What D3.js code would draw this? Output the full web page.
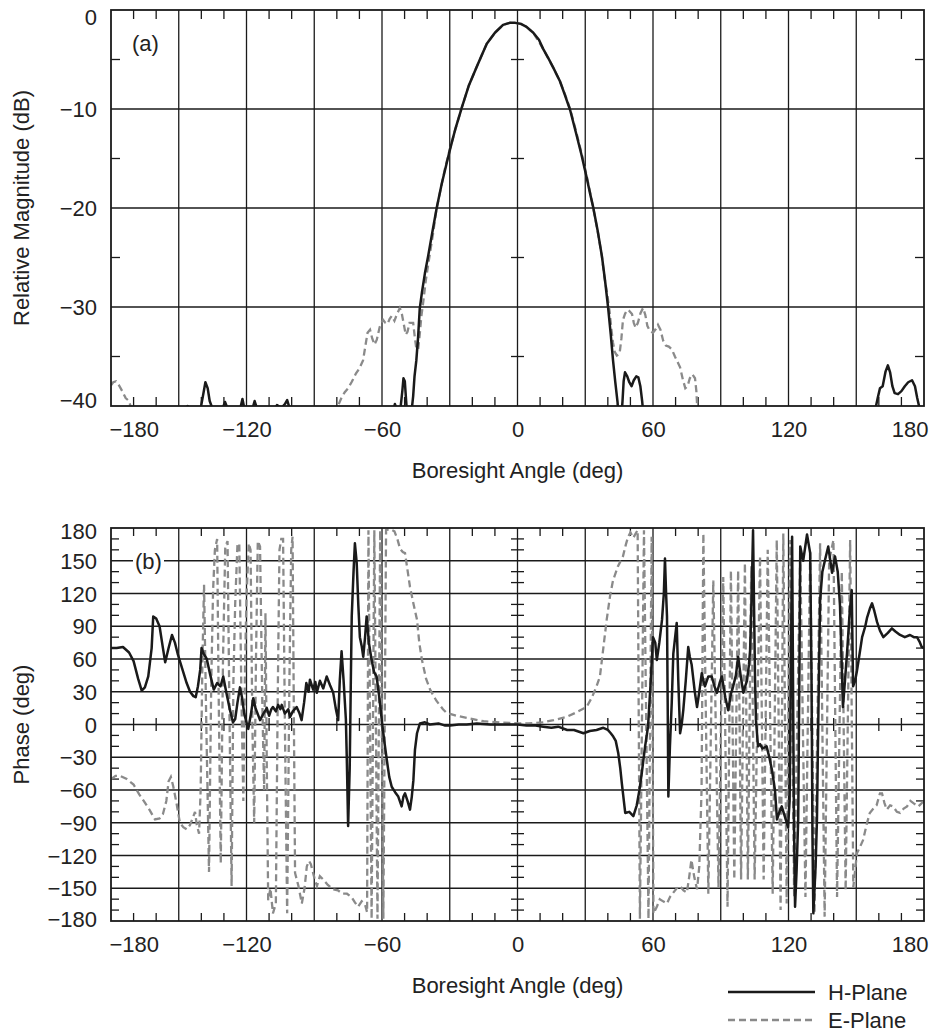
<!DOCTYPE html>
<html>
<head>
<meta charset="utf-8">
<title>Boresight Pattern</title>
<script src="https://d3js.org/d3.v7.min.js"></script>
<style>
  html, body { margin: 0; padding: 0; background: #fff; }
  svg { display: block; }
  text { font-family: "Liberation Sans", Arial, Helvetica, sans-serif; font-size: 22px; fill: #222; }
  .grid line { stroke: #1a1a1a; stroke-width: 1.3; }
  .tick-mark { stroke: #1a1a1a; stroke-width: 1.3; }
  .frame { fill: none; stroke: #1a1a1a; stroke-width: 1.8; }
  .hplane { fill: none; stroke: #1a1a1a; stroke-width: 2.5; stroke-linejoin: round; }
  .eplane { fill: none; stroke: #8a8a8a; stroke-width: 2.3; stroke-dasharray: 7,4; }
</style>
</head>
<body>
<svg id="chart" width="930" height="1034"></svg>
<script>
// tick labels
const angleTicks = [-180, -120, -60, 0, 60, 120, 180];
const magTicks = [0, -10, -20, -30, -40];
const phaseTicks = [180, 150, 120, 90, 60, 30, 0, -30, -60, -90, -120, -150, -180];

// (a) relative magnitude, dB  [angle, value]
const magH = [
  [-180, -45], [-152, -45], [-149.5, -41], [-147.5, -40.3], [-146, -40.0], [-145, -40.6], [-142, -41.5],
  [-140.5, -40.5], [-139.3, -39], [-138.2, -37.6], [-137.2, -38.2], [-136.3, -39.5], [-135, -40.3],
  [-133, -41], [-131, -40.5], [-129.5, -39.6], [-128.3, -40.3], [-126, -41], [-123, -40.5], [-121.8, -39.3],
  [-120.8, -40.4], [-118, -40.8], [-116.4, -39.5], [-115.3, -40.3], [-112, -41], [-108, -40.6],
  [-106.5, -39.9], [-104.5, -40.2], [-103, -39.8], [-102, -39.4], [-100.8, -40.3], [-99.5, -42], [-97, -45],
  [-57, -45], [-55.5, -41], [-54.3, -39.8], [-53, -40.6], [-51.8, -40.2], [-51, -38.5], [-50.5, -37.2],
  [-49.9, -37.5], [-49.3, -39.5], [-48.7, -41.5], [-47.6, -41.5], [-46.8, -40.3], [-46.2, -39], [-45.6, -37],
  [-44.8, -35.4], [-44, -33], [-43.3, -30.2], [-42.3, -28.5], [-41, -26.6], [-39.6, -24.9], [-37.6, -22.3],
  [-35.7, -19.9], [-33.5, -17.5], [-31.5, -15.6], [-29.9, -14.1], [-27.5, -12], [-24.6, -9.8], [-21.5, -7.6],
  [-18, -5.7], [-15.5, -4.4], [-13.6, -3.4], [-10, -2.3], [-6.4, -1.5], [-3.5, -1.3], [-1, -1.3], [1.5, -1.4],
  [4, -1.7], [7, -2.3], [9.5, -3], [11.3, -3.9], [13.5, -4.8], [16, -5.9], [18.8, -7.2], [21, -8.6],
  [23.3, -10.1], [26, -12.5], [28.3, -14.6], [30.5, -16.8], [32.3, -18.7], [33.5, -19.9], [35.5, -22.3],
  [37.4, -24.9], [38.8, -27.4], [40.1, -30], [41.3, -32.8], [42.3, -35.4], [43.3, -37.6], [44.3, -39.6],
  [44.8, -41.5], [45.8, -41.8], [46.5, -39.5], [47, -37.5], [47.6, -36.6], [48.6, -37], [49.5, -37.6],
  [50.5, -38], [51.5, -37.4], [52.6, -37], [53.5, -37.1], [54.4, -38], [55.2, -39.5], [55.8, -41], [57, -45],
  [156, -45], [158.3, -40.5], [159.5, -39.2], [160.5, -38.2], [161.7, -38], [163, -36.5], [164, -35.9],
  [165, -36.6], [166, -38], [167, -38.7], [168.5, -38.8], [170, -38.5], [171.5, -38], [173, -37.6],
  [174.7, -37.4], [176, -38], [177, -39.2], [178, -40.2], [179, -41], [180, -42]
];
const magE = [
  [-180, -37.9], [-179, -37.6], [-177.8, -37.5], [-176.5, -37.9], [-175, -38.5], [-173.5, -39.2], [-172, -39.5],
  [-171, -40.3], [-170, -42], [-168, -45], [-83, -45], [-81, -42], [-79.5, -40], [-78, -39.2], [-76.5, -38.6],
  [-75, -38.2], [-73.5, -37.6], [-72.8, -37.3], [-71.5, -36.7], [-70, -36.2], [-68.4, -35.4], [-67.4, -34],
  [-66.4, -32.6], [-65.3, -32.3], [-64.3, -33.2], [-63.3, -33.8], [-62.3, -33.3], [-61, -32], [-60.2, -31.6],
  [-59.5, -31.3], [-58.5, -31.6], [-57.5, -31.7], [-56.6, -31.2], [-55.7, -30.9], [-54.5, -31.4], [-53.5, -30.8],
  [-52.1, -30.1], [-51.2, -30.7], [-50.3, -31.8], [-49.5, -32.8], [-48.7, -32.5], [-47.8, -31.6], [-46.9, -31.6],
  [-46.2, -31.6], [-45.5, -33], [-44.8, -34.2], [-44, -34.3], [-43.3, -32.8], [-42.6, -31], [-41.8, -29.6],
  [-40.6, -27.3], [-39.2, -25.2], [-37.4, -22.6], [-36, -20.3], [-34.3, -18.4], [-32, -15.9], [-29.9, -14],
  [-27.2, -11.8], [-24.6, -9.8], [-21.5, -7.6], [-18, -5.7], [-13.6, -3.4], [-10, -2.3], [-6.4, -1.5],
  [-3.5, -1.3], [-1, -1.3], [1.5, -1.4], [4, -1.7], [7, -2.3], [11.3, -3.9], [16, -5.9], [18.8, -7.2],
  [21, -8.5], [23.3, -10], [26, -12.3], [28.3, -14.4], [30.5, -16.6], [32.3, -18.6], [33.7, -20.2],
  [35.7, -22.6], [37.3, -24.8], [38.5, -27], [39.8, -28.8], [40.8, -30.5], [41.6, -32.3], [42.3, -33.6],
  [43, -34.5], [44, -34.9], [45.2, -34.7], [46, -33.2], [46.7, -31.3], [47.6, -30.7], [48.5, -30.3],
  [49.5, -30.4], [50.7, -30.7], [51.5, -31.6], [52.3, -32.1], [53.3, -31.6], [54.5, -30.6], [55.6, -30.1],
  [56.6, -30.8], [57.5, -31.9], [58.6, -32.4], [60, -32.6], [61.3, -32.2], [62.2, -31.8], [63.3, -32.3],
  [64.5, -33.4], [65.7, -33.9], [67, -34], [68.4, -34.3], [69.7, -35], [71, -35.6], [72, -36.1],
  [73.2, -37.3], [74.3, -38.2], [75.3, -38], [76.3, -37.2], [77.4, -36.8], [78.6, -37.2], [79.2, -38.5],
  [79.6, -40.2], [80.5, -45], [180, -45]
];

// (b) phase, deg  [angle, value]
const phaseH = [
  [-180, 70], [-177.5, 70], [-174.7, 71], [-172, 66], [-170, 58], [-168, 42], [-166.4, 31], [-165, 34],
  [-163.5, 44], [-162, 70], [-161.3, 99], [-160, 97], [-158.5, 90], [-157, 70], [-156, 57], [-154.5, 70],
  [-153, 82], [-151.7, 75], [-150.5, 65], [-149.5, 58], [-148, 48], [-146.5, 38], [-145, 30], [-143.5, 26],
  [-142.5, 25], [-141.5, 35], [-140.5, 50], [-139.9, 70], [-139, 65], [-137.6, 60], [-136, 45], [-134.5, 32],
  [-133, 38], [-131.5, 35], [-130.3, 44], [-129, 30], [-127.5, 15], [-126, 2], [-125, 5], [-124, 20],
  [-122.9, 34], [-122, 25], [-121, 10], [-120, 2], [-119.2, -4], [-118, 10], [-117, 24], [-116, 15],
  [-114, 4], [-112.5, 10], [-111, 15], [-110, 8], [-109, 14], [-108.3, 16], [-107, 12], [-106, 18],
  [-105, 14], [-104.4, 18], [-103, 10], [-101.5, 14], [-100.7, 7], [-99.5, 12], [-97.8, 16], [-96.5, 10],
  [-95.6, 4], [-94.5, 20], [-93.5, 38], [-92.5, 30], [-91.9, 41], [-90.5, 32], [-89.5, 39], [-88.9, 29],
  [-87.5, 40], [-86, 33], [-84.5, 44], [-83, 36], [-81.6, 29], [-80.5, 15], [-79.4, 4], [-78.7, 40],
  [-77.9, 67], [-77, 40], [-76, 5], [-75.6, -30], [-75, -93], [-74.3, -40], [-73.8, 40], [-73.4, 99],
  [-72.6, 140], [-72, 166], [-71.2, 148], [-70.5, 110], [-69.8, 80], [-69, 72], [-68.3, 62], [-67.5, 80],
  [-66.8, 99], [-65.8, 75], [-64.6, 59], [-63.5, 48], [-62.4, 44], [-61.2, 25], [-60.1, 4], [-59, -15],
  [-57.9, -32], [-56.8, -48], [-55.7, -57], [-54.2, -62], [-52.8, -66], [-51.3, -75], [-50.5, -66],
  [-49.8, -63], [-48.7, -70], [-47.6, -78], [-46.8, -66], [-46.1, -51], [-45.4, -23], [-44.5, -8],
  [-43.2, 1], [-41, 2], [-38.8, 0], [-35, 1], [-32, -1], [-29.9, -1], [-26, 0], [-22.5, 0], [-18, 1],
  [-12, 0], [-7.8, 0], [-3, 0], [0, 0], [4, -1], [8, -1], [11.4, -2], [15, -3], [18, -2], [22, -5],
  [25, -5], [29.2, -8], [32, -6], [35, -5], [38, -3], [40, -5], [41.3, -8], [42.4, -11], [43.5, -15],
  [44.6, -26], [45.5, -40], [46.2, -54], [47.7, -81], [49.5, -80], [51.3, -84], [52.8, -74], [54, -60],
  [55, -45], [56.5, -20], [57.8, -2], [59, 40], [60, 80], [61, 75], [61.7, 59], [62.8, 75], [64, 96],
  [64.8, 120], [65.3, 152], [65.8, 120], [66.2, 99], [66.5, 20], [66.8, -66], [67.5, -20], [68.3, 20],
  [69, 65], [70.5, 93], [71.2, 40], [72, -8], [72.7, 0], [73.4, 13], [74.5, 40], [75.6, 71], [76.3, 62],
  [77.1, 55], [78.5, 30], [79.5, 16], [80.5, 30], [81.6, 47], [82.3, 40], [83, 35], [84.5, 44], [86, 44],
  [87.2, 35], [88.3, 29], [89.5, 38], [90.5, 44], [92, 25], [93.3, 13], [94.5, 28], [95.5, 35], [96.7, 45],
  [97.7, 62], [98.8, 45], [100, 29], [100.8, 35], [101.6, 40], [102.5, 55], [103, 68], [103.7, 120],
  [104.3, 178], [104.8, 100], [105.2, 40], [105.6, 4], [106.5, -20], [107.4, -18], [108.5, -22],
  [110.3, -20], [111.5, -30], [112.7, -42], [114, -60], [114.9, -87], [116, -80], [117, -75], [118.5, -85],
  [119.8, -94], [120.5, -70], [121, 40], [121.6, 172], [122, 40], [122.4, -84], [122.9, -167], [123.6, -133],
  [124.3, -87], [124.8, 40], [125.2, 163], [126.5, 150], [128.2, 174], [129.6, 157], [130.2, 40],
  [130.6, -100], [131, -173], [132, -130], [132.6, -87], [133.3, 20], [134, 114], [135, 140], [136.2, 151],
  [137.6, 163], [139.3, 139], [140.6, 154], [141.8, 140], [142.8, 109], [143.5, 60], [144.1, 16], [145, 40],
  [145.9, 65], [147, 100], [148, 123], [148.6, 35], [149.5, 40], [150.3, 49], [151.5, 65], [152.6, 80],
  [154, 90], [154.8, 98], [156, 106], [157, 111], [158, 104], [159.2, 94], [160.5, 86], [162, 80],
  [164, 84], [165.8, 88], [167.5, 85], [169.4, 82], [171.5, 80], [173.8, 82], [175.5, 80], [176.9, 80],
  [178, 76], [179, 71], [180, 70]
];
const phaseE = [
  [-180, -50], [-178, -47], [-176, -47], [-173, -50], [-170, -55], [-167.5, -64], [-165.5, -70], [-163, -78],
  [-160.5, -87], [-158.5, -86], [-157, -82], [-155.5, -70], [-154.5, -52], [-153.5, -48], [-152.5, -56],
  [-151, -72], [-149.5, -90], [-148, -94], [-146.5, -96], [-145, -92], [-143.5, -84], [-142.8, -80],
  [-142, -92], [-141, -100], [-140.3, -60], [-139.5, 60], [-138.8, 128], [-137.8, 0], [-136.6, -135],
  [-135.6, 40], [-134.8, 123], [-134, 160], [-133, 170], [-132.4, 40], [-131.4, -127], [-130.4, 60],
  [-129.4, 163], [-128.4, 168], [-127.6, 20], [-126.6, -148], [-125.8, 40], [-125, 111], [-124, 165],
  [-123.2, 166], [-122.2, 20], [-121.4, -70], [-120.6, 60], [-120, 116], [-119, 166], [-118.2, 160],
  [-117.4, 0], [-116.6, -90], [-115.8, 60], [-115, 168], [-114, 163], [-113, 20], [-112.2, -60],
  [-111.6, 102], [-111, -40], [-110.4, -161], [-109.4, -150], [-108.3, -173], [-107, -164], [-106.2, 20],
  [-105.4, 160], [-104.6, 170], [-103.8, 170], [-103, 0], [-102, -173], [-101, 40], [-100.2, 160],
  [-99.6, 172], [-99, 0], [-98.5, -136], [-97, -148], [-95.5, -164], [-94.3, -150], [-93.3, -130],
  [-92.3, -125], [-91.5, -128], [-90, -140], [-88.8, -148], [-87.5, -139], [-86, -142], [-84, -147],
  [-81.7, -151], [-79.5, -152], [-77.5, -155], [-75.5, -155], [-73.5, -158], [-72, -163], [-70.6, -167],
  [-69, -162], [-67.5, -165], [-66.6, -172], [-66, 178], [-64.6, -178], [-63.4, 178], [-62, -178],
  [-60.8, 178], [-59.4, -178], [-58.2, 178], [-56.5, 179], [-54.5, 177],
  [-53.2, 170], [-52, 161], [-50.8, 158], [-49.8, 157], [-48.6, 140], [-47.6, 126], [-46, 110],
  [-44.5, 96], [-43.5, 75], [-42.3, 59], [-40.5, 42], [-38.7, 32], [-36, 22], [-33, 14], [-31.3, 10.5],
  [-27, 8], [-22.4, 6], [-15, 3], [-7.8, 2], [0, 1], [5, 1], [11.4, 2], [16, 4], [21.8, 7], [26, 11],
  [30.6, 16], [33, 25], [35, 35], [36.5, 44], [38, 70], [39.5, 96], [41, 118], [42.3, 132], [44.5, 145],
  [46.7, 154], [48, 165], [49, 172], [50, 176], [51.3, 171], [52.3, 175], [53.2, 178], [54.2, -178],
  [56, 178], [58, -178], [59.4, 172], [60.2, -173],
  [61.7, -167], [63, -160], [64.5, -162], [66.2, -164], [67.5, -158], [69, -154], [70.5, -150], [72, -148],
  [73.5, -152], [75, -154], [76, -140], [77, -124], [78.3, -140], [79.5, -151], [80.5, -130], [81.5, -60],
  [82.3, 175], [84.5, -155], [86.7, 132], [89, -149], [91.1, 135], [93, -167], [94.5, 141], [96, -142],
  [97.7, 141], [99, -142], [100.7, 148], [102, -142], [103.5, 145], [105, -142], [107.4, 154], [109, -142],
  [110.8, 160], [113, -155], [114.8, 169], [116.5, -170], [117.7, 175], [119.2, -164], [120.7, 169],
  [122.5, -158], [125.2, 157], [127.5, -158], [129.6, 160], [131.5, -173], [134, 166], [136, -176],
  [138, 150], [139.9, 169], [141.5, -158], [143.6, 140], [145.3, -152], [147.3, 169], [148.7, -149],
  [150.3, -118], [151.7, -112], [153, -106], [154.8, -90], [156, -81], [158, -76], [159, -74], [160.5, -63],
  [161.4, -63], [162.5, -72], [163.5, -78], [165, -74], [166.3, -75], [168, -80], [169.4, -81], [171, -77],
  [172.5, -75], [174, -70], [175.3, -72], [177.5, -75], [180, -70]
];

const svg = d3.select("#chart");
const left = 111, right = 924;
const x = d3.scaleLinear().domain([-180, 180]).range([left, right]);

function drawPanel(p) {
  const y = d3.scaleLinear().domain(p.yDomain).range([p.bottom, p.top]);
  const g = svg.append("g");

  g.append("clipPath").attr("id", p.name + "-clip")
    .append("rect")
    .attr("x", left).attr("y", p.top)
    .attr("width", right - left).attr("height", p.bottom - p.top);

  // grid
  const grid = g.append("g").attr("class", "grid");
  grid.selectAll("line.gx")
    .data(d3.range(-150, 180, 30))
    .join("line").attr("class", "gx")
    .attr("x1", d => x(d)).attr("x2", d => x(d))
    .attr("y1", p.top).attr("y2", p.bottom);
  grid.selectAll("line.gy")
    .data(p.gridY)
    .join("line").attr("class", "gy")
    .attr("x1", left).attr("x2", right)
    .attr("y1", d => y(d)).attr("y2", d => y(d));

  // minor ticks
  const minorX = d3.range(-170, 180, 10).filter(d => d % 30 !== 0);
  const ticks = g.append("g");
  const tl = p.tickLen;
  minorX.forEach(d => {
    ticks.append("line").attr("class", "tick-mark")
      .attr("x1", x(d)).attr("x2", x(d)).attr("y1", p.top).attr("y2", p.top + tl);
    ticks.append("line").attr("class", "tick-mark")
      .attr("x1", x(d)).attr("x2", x(d)).attr("y1", p.bottom).attr("y2", p.bottom - tl);
    if (p.zeroRow) {
      ticks.append("line").attr("class", "tick-mark")
        .attr("x1", x(d)).attr("x2", x(d)).attr("y1", y(0) - 6.5).attr("y2", y(0) + 6.5);
    }
  });
  p.minorY.forEach(d => {
    ticks.append("line").attr("class", "tick-mark")
      .attr("x1", left).attr("x2", left + tl).attr("y1", y(d)).attr("y2", y(d));
    ticks.append("line").attr("class", "tick-mark")
      .attr("x1", right).attr("x2", right - tl).attr("y1", y(d)).attr("y2", y(d));
    ticks.append("line").attr("class", "tick-mark")
      .attr("x1", x(0) - 6.5).attr("x2", x(0) + 6.5).attr("y1", y(d)).attr("y2", y(d));
  });

  // label (a)/(b)
  const tag = g.append("g");
  if (p.tagBox) {
    tag.append("rect").attr("x", p.tagX - 2).attr("y", p.tagY - 17)
      .attr("width", 31).attr("height", 22).attr("fill", "#fff");
  }
  tag.append("text").attr("x", p.tagX).attr("y", p.tagY).text(p.tag);

  // curves
  const line = d3.line().x(d => x(d[0])).y(d => y(d[1]));
  const curves = g.append("g").attr("clip-path", `url(#${p.name}-clip)`);
  curves.append("path").datum(p.eData).attr("class", "eplane").attr("d", line);
  curves.append("path").datum(p.hData).attr("class", "hplane").attr("d", line);

  g.append("rect").attr("class", "frame")
    .attr("x", left).attr("y", p.top)
    .attr("width", right - left).attr("height", p.bottom - p.top);

  // axes (labels only)
  const xAxis = g.append("g").attr("transform", `translate(0,${p.bottom})`)
    .call(d3.axisBottom(x).tickValues(angleTicks).tickSize(0).tickPadding(15));
  xAxis.select(".domain").remove();
  xAxis.selectAll(".tick text")
    .attr("text-anchor", d => d === -180 ? "start" : d === 180 ? "end" : "middle")
    .attr("dx", d => d === -180 ? -2 : d === 180 ? 4 : 0);

  const yAxis = g.append("g").attr("transform", `translate(${left},0)`)
    .call(d3.axisLeft(y).tickValues(p.yTicks).tickSize(0).tickPadding(14));
  yAxis.select(".domain").remove();
  yAxis.selectAll(".tick text")
    .attr("dy", d => d === p.yDomain[1] ? 7.7 + p.endShift[1]
                   : d === p.yDomain[0] ? 7.7 + p.endShift[0] : 7.7);

  g.append("text")
    .attr("text-anchor", "middle")
    .attr("x", (left + right) / 2).attr("y", p.bottom + 72)
    .text("Boresight Angle (deg)");
  g.append("text")
    .attr("text-anchor", "middle")
    .attr("transform", `translate(29,${(p.top + p.bottom) / 2}) rotate(-90)`)
    .text(p.yTitle);
}

drawPanel({
  name: "mag", top: 10, bottom: 406, yDomain: [-40, 0],
  gridY: [-10, -20, -30], minorY: [-5, -15, -25, -35], yTicks: magTicks, endShift: [-6, 7],
  tickLen: 9, zeroRow: false, tag: "(a)", tagX: 132, tagY: 51, tagBox: false,
  yTitle: "Relative Magnitude (dB)", hData: magH, eData: magE
});
drawPanel({
  name: "phase", top: 528, bottom: 921, yDomain: [-180, 180],
  gridY: d3.range(-150, 180, 30),
  minorY: d3.range(-170, 180, 10).filter(d => d % 30 !== 0),
  yTicks: phaseTicks, endShift: [-2, 3],
  tickLen: 8, zeroRow: true, tag: "(b)", tagX: 135, tagY: 569, tagBox: true,
  yTitle: "Phase (deg)", hData: phaseH, eData: phaseE
});

// legend
const legend = svg.append("g");
const legendItems = [
  { label: "H-Plane", cls: "hplane", y: 992 },
  { label: "E-Plane", cls: "eplane", y: 1020 }
];
legendItems.forEach(it => {
  legend.append("line").attr("class", it.cls)
    .attr("x1", 728).attr("x2", 815).attr("y1", it.y).attr("y2", it.y);
  legend.append("text").attr("x", 828).attr("y", it.y + 8).text(it.label);
});
</script>
</body>
</html>
